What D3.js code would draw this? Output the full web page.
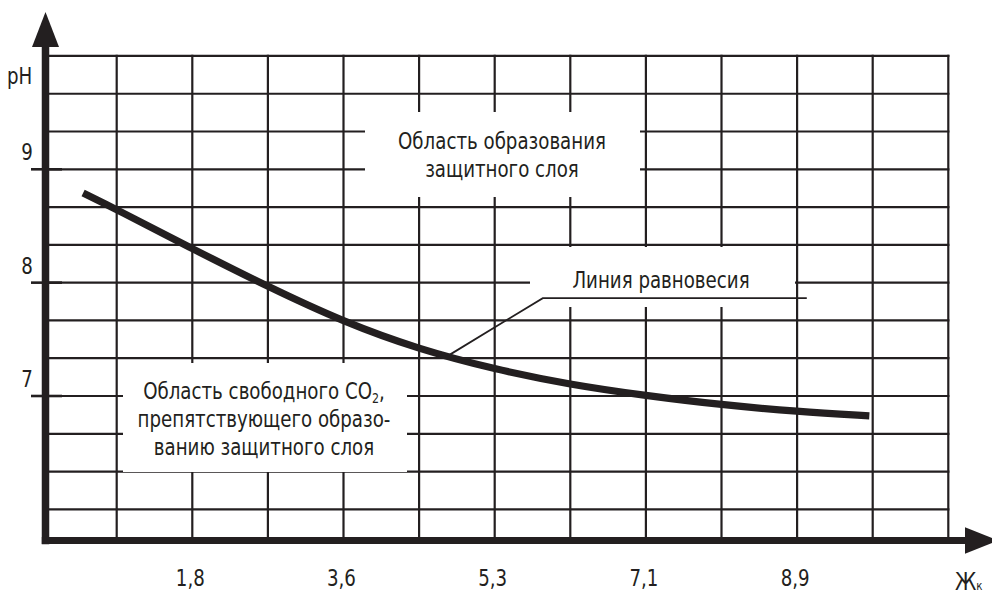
<!DOCTYPE html>
<html>
<head>
<meta charset="utf-8">
<script src="https://cdn.jsdelivr.net/npm/d3@7"></script>
<style>
  html, body { margin: 0; padding: 0; background: #fff; }
  svg { display: block; }
  text { font-family: "Liberation Sans Narrow", "DejaVu Sans Condensed", "Liberation Sans", sans-serif; fill: #231f20; }
</style>
</head>
<body>
<svg id="chart" width="992" height="597"></svg>
<script>
// Hardness (Жк) axis ticks
const xTickValues = [1.8, 3.6, 5.3, 7.1, 8.9];
const xTickLabels = ["1,8", "3,6", "5,3", "7,1", "8,9"];

// pH axis ticks
const yTickValues = [7, 8, 9];
const yTickLabels = ["7", "8", "9"];

// Equilibrium curve: hardness and pH
const curveZh = [0.50, 0.90, 1.81, 2.70, 3.60, 4.45, 5.30, 6.20, 7.10, 8.00, 8.90, 9.76];
const curvePh = [8.79, 8.645, 8.295, 7.964, 7.653, 7.411, 7.235, 7.100, 7.003, 6.922, 6.862, 6.825];

// Point on the curve that the "Линия равновесия" leader points to
const leaderZh = 4.75, leaderPh = 7.343;

const ink = "#231f20";
const svg = d3.select("#chart");

// Layout
const axisX = 45.5, axisY = 540.5;
const gridRight = 948.3;
const colCount = 11;            // vertical grid lines after the first one
const firstCol = 116.7;
const squeeze = 0.88;           // horizontal condensing of the lettering
const fs = 23;

// Column positions of the vertical grid
const col = d3.scaleLinear().domain([0, colCount]).range([firstCol, gridRight]);

// Hardness scale: labelled values fall on every second grid column
const x = d3.scaleLinear()
  .domain(xTickValues)
  .range(xTickValues.map((_, i) => col(1 + 2 * i)));

// pH scale: one unit spans three grid rows
const y = d3.scaleLinear().domain([7, 9]).range([396, 169.3]);

const gridPh = d3.range(0, 13).map(i => 6 + i / 3);

// Grid
const grid = svg.append("g").attr("stroke", ink).attr("stroke-width", 2.2);
grid.selectAll("line.h").data(gridPh).join("line")
  .attr("class", "h")
  .attr("x1", axisX).attr("x2", gridRight + 1.1)
  .attr("y1", d => y(d)).attr("y2", d => y(d));
grid.selectAll("line.v").data(d3.range(0, colCount + 1)).join("line")
  .attr("class", "v")
  .attr("x1", d => col(d)).attr("x2", d => col(d))
  .attr("y1", y(10) - 1.1).attr("y2", axisY);

// White panels behind the labels
const panels = [
  { x0: 365, x1: 640, y0: 112, y1: 197 },
  { x0: 123, x1: 407, y0: 363, y1: 472 },
  { x0: 530, x1: 795, y0: 247, y1: 307 }
];
svg.append("g").selectAll("rect").data(panels).join("rect")
  .attr("x", d => d.x0).attr("y", d => d.y0)
  .attr("width", d => d.x1 - d.x0).attr("height", d => d.y1 - d.y0)
  .attr("fill", "#fff");

// pH tick marks crossing the axis
svg.append("g").selectAll("line").data(yTickValues).join("line")
  .attr("x1", 31).attr("x2", 62)
  .attr("y1", d => y(d)).attr("y2", d => y(d))
  .attr("stroke", ink).attr("stroke-width", 2.6);

// Axes with arrow heads
const axes = svg.append("g");
axes.append("line")
  .attr("x1", axisX).attr("x2", axisX).attr("y1", 40).attr("y2", axisY + 3.7)
  .attr("stroke", ink).attr("stroke-width", 7.5);
axes.append("line")
  .attr("x1", axisX - 3.7).attr("x2", 970).attr("y1", axisY).attr("y2", axisY)
  .attr("stroke", ink).attr("stroke-width", 7);
axes.append("path")
  .attr("d", `M${axisX},12 L${axisX + 13.5},47 L${axisX - 13.5},47 Z`)
  .attr("fill", ink);
axes.append("path")
  .attr("d", `M998,${axisY} L965,${axisY - 13.3} L965,${axisY + 13.3} Z`)
  .attr("fill", ink);

// Equilibrium curve
const pts = curveZh.map((d, i) => [x(d), y(curvePh[i])]);
svg.append("path")
  .attr("d", d3.line().curve(d3.curveBasis)(pts))
  .attr("fill", "none").attr("stroke", ink).attr("stroke-width", 7.2)
  .attr("stroke-linecap", "butt");

// Leader for the curve label
const lx = x(leaderZh), ly = y(leaderPh);
svg.append("path")
  .attr("d", `M${lx},${ly} L${lx + 97},${ly - 59} L${lx + 361},${ly - 59}`)
  .attr("fill", "none").attr("stroke", ink).attr("stroke-width", 1.8);

// Narrow the lettering around a fixed x
function condense(t, cx) {
  t.attr("transform", `translate(${cx},0) scale(${squeeze},1) translate(${-cx},0)`);
  return t;
}

// Axis labels
svg.append("g").selectAll("text").data(xTickValues).join("text")
  .attr("x", d => x(d) - 2).attr("y", 586)
  .attr("text-anchor", "middle").attr("font-size", fs)
  .text((d, i) => xTickLabels[i])
  .each(function (d) { condense(d3.select(this), x(d) - 2); });

svg.append("g").selectAll("text").data(yTickValues).join("text")
  .attr("x", 27).attr("y", d => y(d) - 9)
  .attr("text-anchor", "middle").attr("font-size", fs)
  .text((d, i) => yTickLabels[i])
  .each(function () { condense(d3.select(this), 27); });

condense(svg.append("text").attr("x", 7).attr("y", 84).attr("font-size", fs).text("pH"), 7);

const zk = svg.append("text").attr("x", 955).attr("y", 590).attr("font-size", 25);
zk.append("tspan").text("Ж");
zk.append("tspan").attr("font-size", 13).text("к");
condense(zk, 955);

// Region and curve labels
function block(lines, cx, y0, lh) {
  const t = svg.append("text").attr("text-anchor", "middle").attr("font-size", fs);
  lines.forEach((ln, i) => {
    const row = t.append("tspan").attr("x", cx).attr("y", y0 + i * lh);
    ln.forEach(part => {
      const s = row.append("tspan").text(part.t);
      if (part.sub) s.attr("font-size", 14).attr("dy", 4);
      if (part.back) s.attr("dy", -4);
    });
  });
  return condense(t, cx);
}

block([[{ t: "Область образования" }], [{ t: "защитного слоя" }]], 502, 149, 28);
block([
  [{ t: "Область свободного СО" }, { t: "2", sub: true }, { t: ",", back: true }],
  [{ t: "препятствующего образо-" }],
  [{ t: "ванию защитного слоя" }]
], 264, 399, 28);
block([[{ t: "Линия равновесия" }]], 661, 288, 28);
</script>
</body>
</html>
